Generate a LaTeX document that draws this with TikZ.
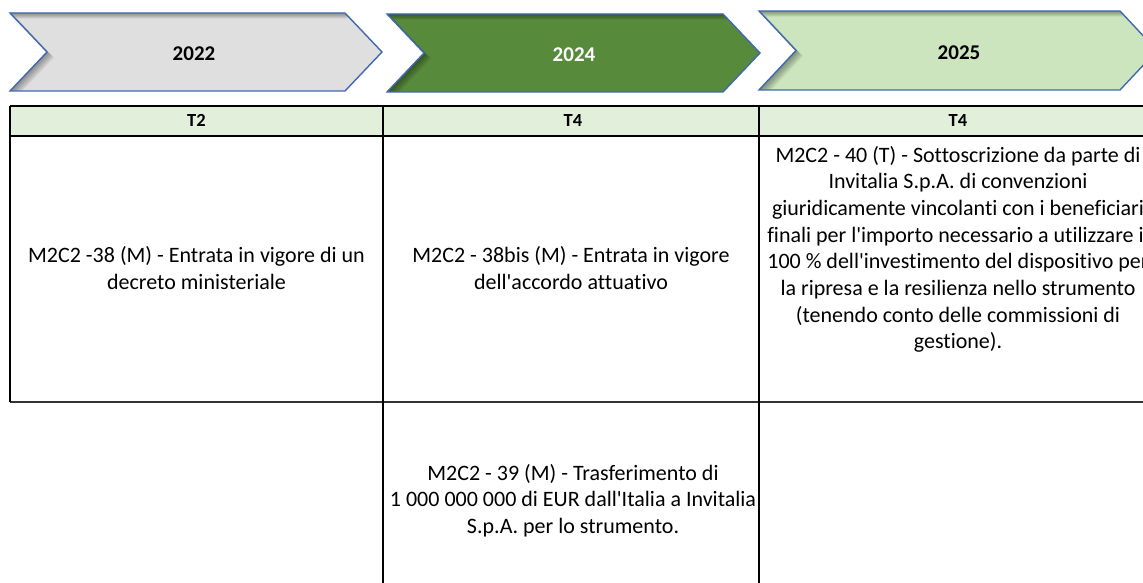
\documentclass[tikz,border=0pt]{standalone}
\usepackage{fontspec}
\setmainfont{Carlito}[Ligatures={NoCommon}]
\definecolor{chevborder}{HTML}{4169B0}
\definecolor{chevgray}{HTML}{DFDFDF}
\definecolor{chevdark}{HTML}{578A3A}
\definecolor{chevlight}{HTML}{CCE5BE}
\definecolor{hdrfill}{HTML}{E2EFDA}
\newcommand\ctrline[1]{\hbox to 0pt{\hss #1\hss}}
\newcommand\chevpath[5]{(#1,#3) -- ({#2-#5},#3) -- (#2,{(#3+#4)/2}) -- ({#2-#5},#4) -- (#1,#4) -- ({#1+#5},{(#3+#4)/2}) -- cycle}
\newcommand\chevshifted[7]{({#1+#6},{#3+#7}) -- ({#2-#5+#6},{#3+#7}) -- ({#2+#6},{(#3+#4)/2+#7}) -- ({#2-#5+#6},{#4+#7}) -- ({#1+#6},{#4+#7}) -- ({#1+#5+#6},{(#3+#4)/2+#7}) -- cycle}
\newcommand\drawchev[6]{%
  \fill[#6] \chevpath{#1}{#2}{#3}{#4}{#5};
  \begin{scope}
    \clip \chevpath{#1}{#2}{#3}{#4}{#5};
    \foreach \s in {1,2,3,4,5,6,7} {
      \fill[black, fill opacity=0.06, even odd rule] (0,0) rectangle (1200,120) \chevshifted{#1}{#2}{#3}{#4}{#5}{\s}{0.8*\s};
    }
  \end{scope}
  \draw[chevline] \chevpath{#1}{#2}{#3}{#4}{#5};
}
\begin{document}
\begin{tikzpicture}[x=1pt,y=-1pt,
  chevline/.style={draw=chevborder, line width=1.4pt, line join=miter},
  yeartext/.style={font=\fontsize{21}{25}\selectfont\bfseries, anchor=base, inner sep=0pt},
  hdrtext/.style={font=\fontsize{18.5}{22}\selectfont\bfseries, anchor=base, inner sep=0pt},
  celltext/.style={font=\fontsize{22}{26.7}\selectfont, anchor=base, inner sep=0pt},
  gridline/.style={draw=black, line width=1.3pt},
  rowline/.style={draw=black!80, line width=1.9pt}
]
\useasboundingbox (0,0) rectangle (1143,583);
\clip (0,0) rectangle (1143,583);
\fill[white] (0,0) rectangle (1143,583);

% chevrons
\drawchev{10}{382}{13}{91}{37}{chevgray}
\drawchev{387}{760}{14}{92}{37}{chevdark}
\drawchev{759}{1157}{11}{90}{37}{chevlight}
\node[yeartext] (y2022) at (194,60.5) {2022};
\node[yeartext, text=white] (y2024) at (574,61.5) {2024};
\node[yeartext] (y2025) at (959,60) {2025};

% header row
\fill[hdrfill] (10,106) rectangle (1157,136);
\node[hdrtext] (h1) at (196.5,126.5) {T2};
\node[hdrtext] (h2) at (573,126.5) {T4};
\node[hdrtext] (h3) at (958,126.5) {T4};

% grid
\draw[gridline] (10,106) -- (1157,106);
\draw[gridline] (10,136) -- (1157,136);
\draw[rowline] (10,402) -- (1157,402);
\draw[gridline] (10,106) -- (10,402);
\draw[gridline] (383,106) -- (383,583);
\draw[gridline] (759,106) -- (759,583);
\draw[gridline] (1157,106) -- (1157,583);

% cells
\node[celltext] (c11) at (196.5,262.7) {\vtop{\ctrline{M2C2 -38 (M) - Entrata in vigore di un}\ctrline{decreto ministeriale}}};
\node[celltext] (c12) at (571,262.7) {\vtop{\ctrline{M2C2 - 38bis (M) - Entrata in vigore}\ctrline{dell\textquotesingle accordo attuativo}}};
\node[celltext] (c13) at (958,162) {\vtop{%
  \ctrline{M2C2 - 40 (T) - Sottoscrizione da parte di}%
  \ctrline{Invitalia S.p.A. di convenzioni}%
  \ctrline{giuridicamente vincolanti con i beneficiari}%
  \ctrline{finali per l\textquotesingle importo necessario a utilizzare il}%
  \ctrline{100 \% dell\textquotesingle investimento del dispositivo per}%
  \ctrline{la ripresa e la resilienza nello strumento}%
  \ctrline{(tenendo conto delle commissioni di}%
  \ctrline{gestione).}}};
\node[celltext] (c22) at (573,480) {\vtop{%
  \ctrline{M2C2 - 39 (M) - Trasferimento di}%
  \ctrline{1 000 000 000 di EUR dall\textquotesingle Italia a Invitalia}%
  \ctrline{S.p.A. per lo strumento.}}};
\end{tikzpicture}
\end{document}
